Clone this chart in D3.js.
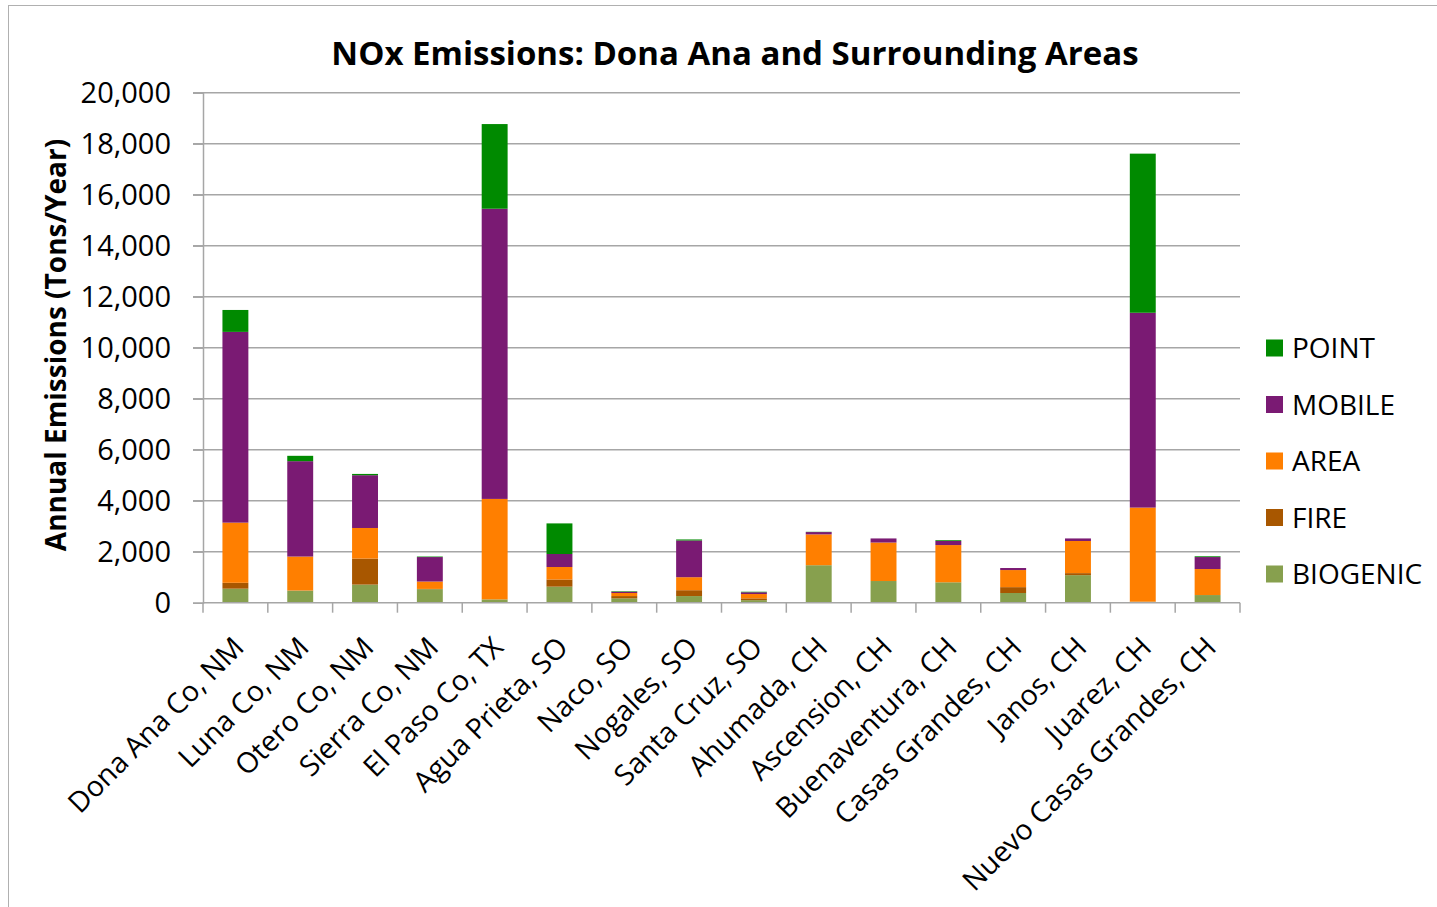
<!DOCTYPE html>
<html><head><meta charset="utf-8">
<script src="https://cdn.jsdelivr.net/npm/d3@7"></script>
<style>html,body{margin:0;padding:0;background:#fff;}svg{display:block;}</style>
</head><body>
<script>
const categories = ["Dona Ana Co, NM","Luna Co, NM","Otero Co, NM","Sierra Co, NM","El Paso Co, TX","Agua Prieta, SO","Naco, SO","Nogales, SO","Santa Cruz, SO","Ahumada, CH","Ascension, CH","Buenaventura, CH","Casas Grandes, CH","Janos, CH","Juarez, CH","Nuevo Casas Grandes, CH"];
const biogenic = [550, 470, 710, 530, 130, 630, 170, 260, 100, 1470, 850, 800, 380, 1080, 40, 300];
const fire     = [230, 10, 1020, 10, 0, 280, 90, 230, 70, 0, 0, 0, 230, 80, 0, 0];
const area     = [2360, 1330, 1200, 290, 3940, 490, 120, 510, 170, 1210, 1510, 1460, 670, 1260, 3690, 1020];
const mobile   = [7480, 3740, 2070, 960, 11380, 510, 50, 1440, 70, 90, 160, 160, 80, 100, 7640, 470];
const point    = [860, 210, 50, 20, 3320, 1200, 20, 40, 20, 10, 0, 30, 0, 0, 6240, 30];
const seriesNames = ["BIOGENIC","FIRE","AREA","MOBILE","POINT"];
const seriesColors = ["#87a04e","#a85700","#ff7f00","#7a1a73","#008a00"];
const yTicks = [0,2000,4000,6000,8000,10000,12000,14000,16000,18000,20000];
const title = "NOx Emissions: Dona Ana and Surrounding Areas";
const yTitle = "Annual Emissions (Tons/Year)";

const W = 1437, H = 907;
const FONT = "'Open Sans', 'Noto Sans', sans-serif";
const svg = d3.select("body").append("svg").attr("width", W).attr("height", H);

// frame
svg.append("rect").attr("x", 8.5).attr("y", 5.5).attr("width", 1500).attr("height", 1000)
  .attr("fill", "#fff").attr("stroke", "#b0b0b0").attr("stroke-width", 1);

const pLeft = 203, pRight = 1240, pTop = 92.7, pBottom = 602.7;
const x = d3.scaleBand().domain(categories).range([pLeft, pRight]).paddingInner(0.6).paddingOuter(0.3);
const y = d3.scaleLinear().domain([0, 20000]).range([pBottom, pTop]);

// gridlines
svg.append("g").selectAll("line").data(yTicks.filter(d => d > 0)).join("line")
  .attr("x1", pLeft - 10).attr("x2", pRight).attr("y1", d => y(d)).attr("y2", d => y(d))
  .attr("stroke", "#a6a6a6").attr("stroke-width", 1.5);

// y axis
const yAxis = svg.append("g").attr("transform", `translate(${pLeft},0)`)
  .call(d3.axisLeft(y).tickValues(yTicks).tickSize(10).tickFormat(d3.format(",")).tickPadding(22));
yAxis.select(".domain").attr("stroke", "#a6a6a6").attr("stroke-width", 1.5);
yAxis.selectAll(".tick line").attr("stroke", "#a6a6a6").attr("stroke-width", 1.5);
yAxis.selectAll("text").attr("font-family", FONT).attr("font-size", 29).attr("fill", "#000").attr("dy", "0.35em");

// stacked data
const rows = categories.map((c, i) => ({cat: c, BIOGENIC: biogenic[i], FIRE: fire[i], AREA: area[i], MOBILE: mobile[i], POINT: point[i]}));
const stack = d3.stack().keys(seriesNames)(rows);
const color = d3.scaleOrdinal().domain(seriesNames).range(seriesColors);

svg.append("g").selectAll("g").data(stack).join("g").attr("fill", d => color(d.key))
  .selectAll("rect").data(d => d).join("rect")
  .attr("x", d => x(d.data.cat)).attr("width", x.bandwidth())
  .attr("y", d => y(d[1])).attr("height", d => Math.max(0, y(d[0]) - y(d[1])));

// x axis
const xAxisG = svg.append("g").attr("transform", `translate(0,${pBottom})`);
xAxisG.append("line").attr("x1", pLeft).attr("x2", pRight).attr("stroke", "#a6a6a6").attr("stroke-width", 1.5);
const tickPos = d3.range(categories.length + 1).map(i => pLeft + i * (pRight - pLeft) / categories.length);
xAxisG.selectAll("line.t").data(tickPos).join("line").attr("class", "t")
  .attr("x1", d => d).attr("x2", d => d).attr("y1", 0).attr("y2", 10)
  .attr("stroke", "#a6a6a6").attr("stroke-width", 1.5);
xAxisG.selectAll("text").data(categories).join("text")
  .attr("transform", d => `translate(${x(d) + x.bandwidth() / 2 - 4},${32}) rotate(-45)`)
  .attr("text-anchor", "end").attr("dy", "0.71em")
  .attr("font-family", FONT).attr("font-size", 28.5).attr("fill", "#000")
  .text(d => d);

// title
svg.append("text").attr("x", 735).attr("y", 65).attr("text-anchor", "middle")
  .attr("font-family", FONT).attr("font-weight", "bold").attr("font-size", 33).attr("fill", "#000").text(title);

// y title
svg.append("text").attr("transform", `translate(66,345) rotate(-90)`).attr("text-anchor", "middle")
  .attr("font-family", FONT).attr("font-weight", "bold").attr("font-size", 28).attr("fill", "#000").text(yTitle);

// legend
const legendItems = seriesNames.slice().reverse();
const lg = svg.append("g").selectAll("g").data(legendItems).join("g")
  .attr("transform", (d, i) => `translate(1266,${348 + i * 56.5})`);
lg.append("rect").attr("x", 0).attr("y", -8.5).attr("width", 17).attr("height", 17).attr("fill", d => color(d));
lg.append("text").attr("x", 26).attr("dy", "0.36em").attr("font-family", FONT).attr("font-size", 28)
  .attr("fill", "#000").text(d => d);
</script>
</body></html>
